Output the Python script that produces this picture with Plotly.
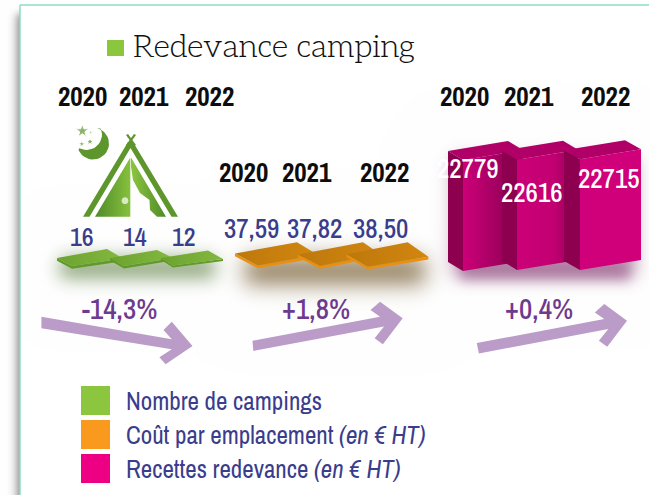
import base64, math, struct, zlib
import numpy as np
import plotly.graph_objects as go

# ---------- data ----------
years = [2020, 2021, 2022]
nb_campings = [16, 14, 12]
cout_emplacement = [37.59, 37.82, 38.50]
recettes = [22779, 22616, 22715]
evolutions = ["-14,3%", "+1,8%", "+0,4%"]
legend_labels = ["Nombre de campings",
                 "Coût par emplacement <i>(en € HT)</i>",
                 "Recettes redevance <i>(en € HT)</i>"]
title_text = "Redevance camping"

W, H = 649, 495
NARROW = "'Archivo Narrow','Roboto Condensed','Liberation Sans',sans-serif"
SLAB = "'Aleo','Liberation Serif',serif"
BLUE = "#3a3c8c"


def gauss_edge(arr, a, b, s):
    erf = np.vectorize(math.erf)
    return 0.5 * (erf((arr - a) / (s * 2**.5)) - erf((arr - b) / (s * 2**.5)))


def shadow_png():
    X, Y = np.arange(W) + .5, np.arange(H) + .5
    rgb = np.ones((H, W, 3))
    # page shadow, left of the white panel only
    m = np.outer(gauss_edge(Y, 14, 700, 4), gauss_edge(X, 18, 80, 5)) * 0.9
    for i in range(3):
        rgb[:, :, i] = rgb[:, :, i] * (1 - m) + (100 / 255) * m
    rgb[:, 20:, :] = 1
    blobs = [
        ((60, 215), (258, 278), 9, (110, 140, 85), 0.80),
        ((245, 425), (258, 284), 11, (125, 100, 60), 0.85),
        ((452, 636), (158, 276), 9, (135, 60, 115), 0.50),
        ((460, 630), (262, 280), 6, (125, 45, 105), 0.45),
    ]
    for (xa, xb), (ya, yb), s, col, alpha in blobs:
        m = np.outer(gauss_edge(Y, ya, yb, s), gauss_edge(X, xa, xb, s)) * alpha
        for i in range(3):
            rgb[:, :, i] = rgb[:, :, i] * (1 - m) + (col[i] / 255) * m
    img = (rgb * 255).astype(np.uint8)
    raw = b"".join(b"\x00" + img[r].tobytes() for r in range(H))

    def chunk(t, d):
        return struct.pack(">I", len(d)) + t + d + struct.pack(">I", zlib.crc32(t + d))
    png = b"\x89PNG\r\n\x1a\n" + chunk(b"IHDR", struct.pack(">IIBBBBB", W, H, 8, 2, 0, 0, 0)) \
        + chunk(b"IDAT", zlib.compress(raw, 9)) + chunk(b"IEND", b"")
    return "data:image/png;base64," + base64.b64encode(png).decode()


fig = go.Figure()


def px_poly(pts, color=None, grad=None, yaxis="y"):
    xs = [p[0] for p in pts] + [pts[0][0]]
    ys = [p[1] for p in pts] + [pts[0][1]]
    kw = dict(fillcolor=color) if grad is None else dict(
        fillgradient=dict(type="horizontal", colorscale=grad))
    fig.add_trace(go.Scatter(x=xs, y=ys, mode="lines", line=dict(width=0), fill="toself",
                             hoverinfo="skip", showlegend=False, yaxis=yaxis, **kw))


# ---------- value scales (one hidden y axis per group, in value units) ----------
K_PINK = 111 / max(recettes)
K_GREEN = 2.8 / max(nb_campings)
K_ORANGE = 2.8 / max(cout_emplacement)
BASE_PINK, BASE_GREEN, BASE_ORANGE = 270, 266, 268


def axis_range(base, k):
    return [-(H - base) / k, base / k]


def bar3d(vals, k, base, geom, faces, yaxis):
    # the height of each block comes from its value; px offsets only skew the faces
    for v, g, f in zip(vals, geom, faces):
        xl, xf, xr, db = g
        d0 = -db / k                 # baseline shift of this block
        sk = 10 / k                  # rise of the face towards the right
        dp = 9 / k                   # rise towards the back
        px_poly([(xl, d0 + dp), (xf, d0), (xf, d0 + v), (xl, d0 + v + dp)], f[0], yaxis=yaxis)
        px_poly([(xl, d0 + v + dp), (xf, d0 + v), (xr, d0 + v + sk), (xr - xf + xl, d0 + v + sk + dp)],
                f[1], yaxis=yaxis)
        px_poly([(xf, d0), (xf, d0 + v), (xr, d0 + v + sk), (xr, d0 + sk)], grad=f[2], yaxis=yaxis)


def sheet(vals, k, base, geom, faces, yaxis):
    for v, g, f in zip(vals, geom, faces):
        (ax, ay), (bx, by), (cx, cy), (dx, dy) = g
        t = lambda py: (base - py) / k
        px_poly([(ax, t(ay)), (dx, t(dy)), (dx, t(dy) - v), (ax, t(ay) - v)], f[0], yaxis=yaxis)
        px_poly([(dx, t(dy)), (cx, t(cy)), (cx, t(cy) - v), (dx, t(dy) - v)], f[0], yaxis=yaxis)
        px_poly([(ax, t(ay)), (bx, t(by)), (cx, t(cy)), (dx, t(dy))], grad=f[1], yaxis=yaxis)


sheet(nb_campings, K_GREEN, BASE_GREEN,
      [((57, 258), (107, 249), (123, 258.5), (72, 266)),
       ((110, 258), (157, 250), (173, 258), (124, 266)),
       ((161, 258), (208, 250.5), (223, 259), (173, 265.5))],
      [("#5f9a2a", [[0, "#6ba22f"], [1, "#84b840"]])] * 3, "y2")
sheet(cout_emplacement, K_ORANGE, BASE_ORANGE,
      [((235, 253.5), (297, 242.3), (318, 255), (258, 265.5)),
       ((298, 254.5), (363, 242.3), (380, 254), (320, 266)),
       ((346.7, 254.3), (407.7, 242.3), (428.3, 256.7), (367.7, 266.7))],
      [("#e8900f", [[0, "#bd780c"], [1, "#d2860f"]])] * 3, "y3")

front1 = [[0, "#cc0078"], [0.55, "#a50062"], [1, "#7d004a"]]
front2 = [[0, "#cc0078"], [0.6, "#c20072"], [1, "#8f0054"]]
front3 = [[0, "#cf007a"], [1, "#cf007a"]]
bar3d(recettes, K_PINK, BASE_PINK,
      [(448, 463, 523, 1), (502, 517, 578, 0), (564, 580, 641, 0)],
      [("#8c004f", "#b00067", front1), ("#8c004f", "#b00067", front2), ("#8c004f", "#b00067", front3)],
      "y4")

# ---------- tent icon (decoration, pixel axis) ----------
G1 = "#5d962c"
px_poly([(83, 216.7), (128, 142), (133, 142), (178, 216.7), (171.5, 216.7), (130.5, 148), (89.5, 216.7)], G1)
px_poly([(126, 135), (128, 134), (136, 145), (134, 146)], G1)
px_poly([(134, 134), (136, 135), (128, 146), (126, 145)], G1)
px_poly([(95, 216.7), (130.3, 157.5), (130.3, 216.7)], grad=[[0, "#4f8a2a"], [1, "#86c13c"]])
px_poly([(131, 157.5), (166, 216.7), (157, 216.7), (150, 210), (149.5, 200), (140, 193), (133, 180), (131, 167)],
        grad=[[0, "#8cc63f"], [1, "#4f8a2a"]])
px_poly(list(zip(93 + 16 * np.cos(np.radians(np.arange(-75, 160, 10))),
                 143.5 + 16 * np.sin(np.radians(np.arange(-75, 160, 10))))) +
        list(zip(86.5 + 15.5 * np.cos(np.radians(np.arange(118, -25, -10))),
                 134.5 + 15.5 * np.sin(np.radians(np.arange(118, -25, -10))))), G1)
fig.add_trace(go.Scatter(x=[82.3, 90.7, 81.7, 90, 125], y=[131, 132.5, 144, 141.7, 200.7], mode="markers",
                         marker=dict(symbol=["star", "star", "star", "star", "circle"],
                                     size=[10, 3, 5, 6, 6], color=[G1, G1, G1, G1, "white"]),
                         hoverinfo="skip", showlegend=False))

# ---------- trend arrows ----------
ARROWS = [
    [(41.4, 316.7), (171.8, 339.3), (163.5, 330), (171.8, 321.7), (192.5, 346), (165.6, 364.3),
     (159.4, 357.3), (171.8, 349.3), (41.4, 328.3)],
    [(252.5, 340.7), (380, 316.7), (370.5, 310), (380, 301.7), (402.7, 318.3), (382.9, 344.3),
     (374.6, 338.3), (384, 326.5), (253.3, 351)],
    [(476.8, 343.1), (604.3, 319.1), (594.8, 312.4), (604.3, 304.1), (627, 320.7), (607.2, 346.7),
     (598.9, 340.7), (608.3, 328.9), (478.9, 353.4)],
]
for a in ARROWS:
    px_poly(a, "#bb9cc9")

# ---------- texts ----------
ann = []


def label(x, y, text, size, color, family=NARROW, anchor="center", bold=False, weight=None):
    t = f"<b>{text}</b>" if bold else text
    font = dict(family=family, size=size, color=color)
    if weight:
        font["weight"] = weight
    ann.append(dict(x=x, y=y, xref="x", yref="y", text=t, showarrow=False, xanchor=anchor, yanchor="middle",
                    font=font))


label(131, 47, title_text, 32, "#111111", family=SLAB, anchor="left", weight=300)
for xs, y in [((82, 144, 209), 96), ((243, 307, 384), 172), ((464, 529, 605), 96)]:
    for x, yr in zip(xs, years):
        label(x, y, yr, 27, "#0d0d0d", bold=True)
for x, v in zip((82, 135, 184), nb_campings):
    label(x, 236, v, 26, BLUE, weight=500)
for x, v in zip((251, 314, 380), cout_emplacement):
    label(x, 228, f"{v:.2f}".replace(".", ","), 27, BLUE, weight=500)
for x, y, v in zip((468, 532, 609), (168, 192, 178), recettes):
    label(x, y, v, 27, "white", weight=500)
for x, t in zip((119, 316, 539), evolutions):
    label(x, 308, t, 29, "#6d3a8e", weight=500)
for y, t in zip((401, 435, 469), legend_labels):
    label(124, y, t, 25, BLUE, anchor="left")

shapes = [
    dict(type="rect", xref="x", yref="y", x0=107, x1=124, y0=40, y1=56, fillcolor="#8cc63f", line_width=0),
    dict(type="rect", xref="x", yref="y", x0=81, x1=110, y0=386, y1=415, fillcolor="#8cc63f", line_width=0),
    dict(type="rect", xref="x", yref="y", x0=81, x1=110, y0=420, y1=449, fillcolor="#f9991d", line_width=0),
    dict(type="rect", xref="x", yref="y", x0=81, x1=110, y0=454, y1=483, fillcolor="#ee0085", line_width=0),
    dict(type="line", xref="x", yref="y", x0=20, x1=20, y0=5, y1=495, line=dict(color="#8edcc0", width=1.5)),
    dict(type="line", xref="x", yref="y", x0=20, x1=649, y0=5, y1=5, line=dict(color="#8edcc0", width=1.5)),
]

hidden = dict(visible=False, fixedrange=True)
fig.update_layout(
    width=W, height=H, margin=dict(l=0, r=0, t=0, b=0), autosize=False,
    paper_bgcolor="white", plot_bgcolor="rgba(0,0,0,0)", showlegend=False,
    xaxis=dict(range=[0, W], domain=[0, 1], **hidden),
    yaxis=dict(range=[H, 0], domain=[0, 1], **hidden),
    yaxis2=dict(range=axis_range(BASE_GREEN, K_GREEN), overlaying="y", **hidden),
    yaxis3=dict(range=axis_range(BASE_ORANGE, K_ORANGE), overlaying="y", **hidden),
    yaxis4=dict(range=axis_range(BASE_PINK, K_PINK), overlaying="y", **hidden),
    annotations=ann, shapes=shapes,
    images=[dict(source=shadow_png(), xref="paper", yref="paper", x=0, y=1, sizex=1, sizey=1,
                 xanchor="left", yanchor="top", sizing="stretch", layer="below")],
)
fig.write_html("out.html", config={"displayModeBar": False},
               post_script="document.body.style.margin='0';document.documentElement.style.overflow='hidden';")
